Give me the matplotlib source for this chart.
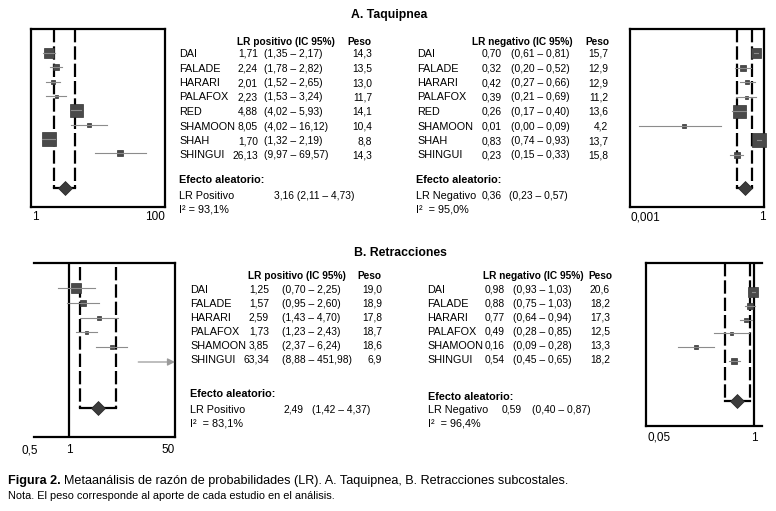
import numpy as np
import matplotlib.pyplot as plt

plt.rcParams['font.family'] = ['Liberation Sans', 'DejaVu Sans']

# ---- data ----
A_names = ['DAI', 'FALADE', 'HARARI', 'PALAFOX', 'RED', 'SHAMOON', 'SHAH', 'SHINGUI']
A_pos_lr = [1.71, 2.24, 2.01, 2.23, 4.88, 8.05, 1.70, 26.13]
A_pos_lo = [1.35, 1.78, 1.52, 1.53, 4.02, 4.02, 1.32, 9.97]
A_pos_hi = [2.17, 2.82, 2.65, 3.24, 5.93, 16.12, 2.19, 69.57]
A_pos_w = [14.3, 13.5, 13.0, 11.7, 14.1, 10.4, 8.8, 14.3]
A_pos_pool = [3.16, 2.11, 4.73]
A_pos_i2 = 93.1

A_neg_lr = [0.70, 0.32, 0.42, 0.39, 0.26, 0.01, 0.83, 0.23]
A_neg_lo = [0.61, 0.20, 0.27, 0.21, 0.17, 0.00, 0.74, 0.15]
A_neg_hi = [0.81, 0.52, 0.66, 0.69, 0.40, 0.09, 0.93, 0.33]
A_neg_w = [15.7, 12.9, 12.9, 11.2, 13.6, 4.2, 13.7, 15.8]
A_neg_pool = [0.36, 0.23, 0.57]
A_neg_i2 = 95.0

B_names = ['DAI', 'FALADE', 'HARARI', 'PALAFOX', 'SHAMOON', 'SHINGUI']
B_pos_lr = [1.25, 1.57, 2.59, 1.73, 3.85, 63.34]
B_pos_lo = [0.70, 0.95, 1.43, 1.23, 2.37, 8.88]
B_pos_hi = [2.25, 2.60, 4.70, 2.43, 6.24, 451.98]
B_pos_w = [19.0, 18.9, 17.8, 18.7, 18.6, 6.9]
B_pos_pool = [2.49, 1.42, 4.37]
B_pos_i2 = 83.1

B_neg_lr = [0.98, 0.88, 0.77, 0.49, 0.16, 0.54]
B_neg_lo = [0.93, 0.75, 0.64, 0.28, 0.09, 0.45]
B_neg_hi = [1.03, 1.03, 0.94, 0.85, 0.28, 0.65]
B_neg_w = [20.6, 18.2, 17.3, 12.5, 13.3, 18.2]
B_neg_pool = [0.59, 0.40, 0.87]
B_neg_i2 = 96.4

# box size (px) of each study in the plots (style)
box_px = {'DAI': 10, 'FALADE': 6, 'HARARI': 5, 'PALAFOX': 3, 'RED': 13,
          'SHAMOON': 4, 'SHAH': 14, 'SHINGUI': 6}

W, H = 776, 511
fig = plt.figure(figsize=(W / 100, H / 100), dpi=100)

# overlay in pixel coordinates for all the text
ov = fig.add_axes([0, 0, 1, 1])
ov.set_xlim(0, W)
ov.set_ylim(H, 0)
ov.axis('off')

FS = 7.8   # names / labels
FV = 7.4   # numbers


def fmt(v):
    return ('%.2f' % v).replace('.', ',')


def px_axes(x0, y0, x1, y1):
    return fig.add_axes([x0 / W, 1 - y1 / H, (x1 - x0) / W, (y1 - y0) / H])


def forest(rect, xlim, names, lr, lo, hi, pool, y0, step, y_pool, dash_top, line_at_one=None):
    ax = px_axes(*rect)
    ax.patch.set_alpha(0)
    ax.set_xscale('log')
    ax.set_xlim(xlim)
    ax.set_ylim(rect[3], rect[1])
    ax.set_yticks([])
    ax.minorticks_off()
    for s in ax.spines.values():
        s.set_linewidth(1.6)
    if line_at_one == 'left':
        ax.spines['left'].set_visible(False)
    if line_at_one == 'right':
        ax.spines['right'].set_visible(False)
    if line_at_one:
        ax.axvline(1, color='k', lw=1.6)
    xmin, xmax = ax.get_xlim()
    rows = y0 + step * np.arange(len(names))
    for name, y, v, a, b in zip(names, rows, lr, lo, hi):
        a = max(a, 7e-4)  # 0,00 lower bound, kept on the log axis
        if b > xmax:
            ax.annotate('', xy=(xmax, y), xytext=(a, y),
                        arrowprops=dict(arrowstyle='-|>', color='#9a9a9a', lw=0.9,
                                        mutation_scale=11, shrinkA=0, shrinkB=0),
                        annotation_clip=False)
        else:
            ax.plot([a, b], [y, y], color='#8c8c8c', lw=0.8, zorder=4, clip_on=False)
        if v < xmax:
            ax.plot(v, y, marker='s', ms=box_px[name] * 0.72, color='#4a4a4a',
                    mec='#333333', mew=0.5, zorder=3, clip_on=False)
    est, plo, phi = pool
    for x in (plo, phi):
        ax.plot([x, x], [dash_top, y_pool], color='k', lw=1.6, dashes=(6, 1.8), zorder=2)
    ax.plot([plo, phi], [y_pool, y_pool], color='k', lw=1.6, zorder=2)
    ax.plot(est, y_pool, marker='D', ms=7.5, color='#3c3c3c', mec='#222222', mew=0.5, zorder=5)
    ax.tick_params(axis='x', length=0, labelsize=8.5, pad=3)
    return ax


# ---- A. Taquipnea ----
ov.text(389, 15, 'A. Taquipnea', ha='center', va='center', fontsize=8.8, fontweight='bold')

ax1 = forest((31, 29, 165, 207), (0.858, 146.8), A_names, A_pos_lr, A_pos_lo, A_pos_hi,
             A_pos_pool, 53, 14.3, 188, 29)
ax1.set_xticks([1, 100], ['1', '100'])

ax2 = forest((630, 29, 764, 207), (4.12e-4, 1.125), A_names, A_neg_lr, A_neg_lo, A_neg_hi,
             A_neg_pool, 53, 14.5, 188, 29)
ax2.set_xticks([0.001, 1], ['0,001', '1'])


def table(x_name, x_val, x_ci, x_w, x_hdr, x_peso, y_hdr, y0, step, names, lr, lo, hi, w, hdr):
    ov.text(x_hdr, y_hdr, hdr, fontsize=FS - 0.5, fontweight='bold', va='center')
    ov.text(x_peso, y_hdr, 'Peso', fontsize=FS - 0.5, fontweight='bold', va='center')
    for i, n in enumerate(names):
        y = y0 + step * i
        ov.text(x_name, y, n, fontsize=FS, va='center')
        ov.text(x_val, y, fmt(lr[i]), fontsize=FV, va='center', ha='right')
        ov.text(x_ci, y, '(%s – %s)' % (fmt(lo[i]), fmt(hi[i])), fontsize=FV, va='center')
        ov.text(x_w, y, ('%.1f' % w[i]).replace('.', ','), fontsize=FV, va='center', ha='right')


table(179, 258, 264, 372, 237, 347, 42, 54, 14.5, A_names, A_pos_lr, A_pos_lo, A_pos_hi,
      A_pos_w, 'LR positivo (IC 95%)')
table(417, 502, 511, 608, 472, 585, 42, 54, 14.5, A_names, A_neg_lr, A_neg_lo, A_neg_hi,
      A_neg_w, 'LR negativo (IC 95%)')

ov.text(179, 180, 'Efecto aleatorio:', fontsize=FS, fontweight='bold', va='center')
ov.text(179, 196, 'LR Positivo', fontsize=FS, va='center')
ov.text(274, 196, '%s (%s – %s)' % tuple(fmt(v) for v in A_pos_pool), fontsize=FV, va='center')
ov.text(179, 210, 'I² = %s%%' % ('%.1f' % A_pos_i2).replace('.', ','), fontsize=FS, va='center')

ov.text(416, 180, 'Efecto aleatorio:', fontsize=FS, fontweight='bold', va='center')
ov.text(416, 196, 'LR Negativo', fontsize=FS, va='center')
ov.text(482, 196, fmt(A_neg_pool[0]), fontsize=FV, va='center')
ov.text(509, 196, '(%s – %s)' % (fmt(A_neg_pool[1]), fmt(A_neg_pool[2])), fontsize=FV, va='center')
ov.text(416, 210, 'I²  = %s%%' % ('%.1f' % A_neg_i2).replace('.', ','), fontsize=FS, va='center')

# ---- B. Retracciones ----
ov.text(400, 253, 'B. Retracciones', ha='center', va='center', fontsize=8.8, fontweight='bold')

ax3 = forest((34, 263, 175, 437), (0.332, 28.3), B_names, B_pos_lr, B_pos_lo, B_pos_hi,
             B_pos_pool, 288, 14.8, 408, 267, line_at_one='left')
ax3.set_xticks([])
b_ticks = ['0,5', '1', '50']
b_tick_frac = [-0.03, 0.248, 0.95]
for lab, fx in zip(b_ticks, b_tick_frac):
    ax3.text(fx, -0.075, lab, transform=ax3.transAxes, ha='center', va='center', fontsize=8.5)

ax4 = forest((646, 263, 762, 426), (0.0332, 1.287), B_names, B_neg_lr, B_neg_lo, B_neg_hi,
             B_neg_pool, 292, 13.8, 401, 263, line_at_one='right')
ax4.set_xticks([0.05, 1], ['0,05', '1'])
ax4.tick_params(axis='x', pad=4)

table(190, 269, 282, 382, 248, 357, 276, 290, 14, B_names, B_pos_lr, B_pos_lo, B_pos_hi,
      B_pos_w, 'LR positivo (IC 95%)')
table(427, 505, 513, 610, 483, 588, 276, 290, 14, B_names, B_neg_lr, B_neg_lo, B_neg_hi,
      B_neg_w, 'LR negativo (IC 95%)')

ov.text(190, 394, 'Efecto aleatorio:', fontsize=FS, fontweight='bold', va='center')
ov.text(190, 410, 'LR Positivo', fontsize=FS, va='center')
ov.text(283, 410, fmt(B_pos_pool[0]), fontsize=FV, va='center')
ov.text(312, 410, '(%s – %s)' % (fmt(B_pos_pool[1]), fmt(B_pos_pool[2])), fontsize=FV, va='center')
ov.text(190, 423, 'I²  = %s%%' % ('%.1f' % B_pos_i2).replace('.', ','), fontsize=FS, va='center')

ov.text(428, 397, 'Efecto aleatorio:', fontsize=FS, fontweight='bold', va='center')
ov.text(428, 410, 'LR Negativo', fontsize=FS, va='center')
ov.text(502, 410, fmt(B_neg_pool[0]), fontsize=FV, va='center')
ov.text(532, 410, '(%s – %s)' % (fmt(B_neg_pool[1]), fmt(B_neg_pool[2])), fontsize=FV, va='center')
ov.text(428, 423, 'I²  = %s%%' % ('%.1f' % B_neg_i2).replace('.', ','), fontsize=FS, va='center')

# ---- caption ----
r = fig.canvas.get_renderer()
t = ov.text(8, 481, 'Figura 2.', fontsize=9.1, fontweight='bold', va='center')
x_end = ov.transData.inverted().transform(t.get_window_extent(r))[1][0]
ov.text(x_end + 3, 481, 'Metaanálisis de razón de probabilidades (LR). A. Taquipnea, '
        'B. Retracciones subcostales.', fontsize=9.1, va='center')
ov.text(8, 496, 'Nota. El peso corresponde al aporte de cada estudio en el análisis.',
        fontsize=7.9, va='center')

fig.savefig('out.png', dpi=100)
